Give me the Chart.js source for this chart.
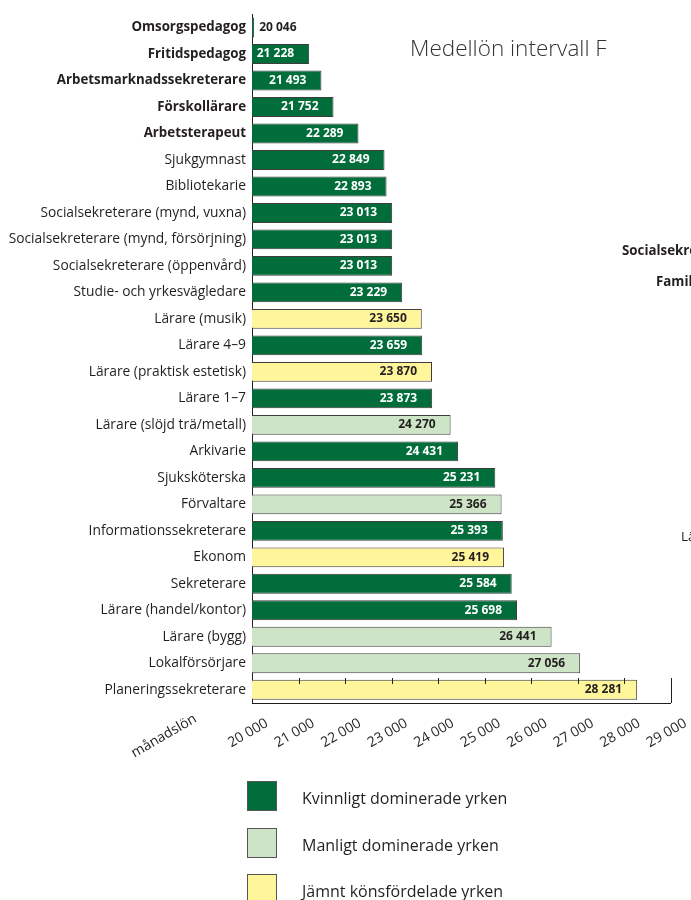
<!DOCTYPE html>
<html>
<head>
<meta charset="utf-8">
<script src="https://cdn.jsdelivr.net/npm/chart.js@4"></script>
<style>
  body { margin: 0; background: #fff; font-family: "Open Sans", sans-serif; color: #231f20; }
  #wrap { position: relative; width: 691px; height: 900px; overflow: hidden; }
  #lonChart { position: absolute; left: 0; top: 0; }
  #title { position: absolute; left: 410px; top: 32px; font-size: 22.5px; font-weight: 300; color: #333; white-space: nowrap; }
  .frag { position: absolute; font-size: 13.3px; white-space: nowrap; }
  .legend { position: absolute; left: 247px; top: 0; }
  .legend .row { position: absolute; left: 0; width: 300px; height: 30px; white-space: nowrap; }
  .legend .box { position: absolute; left: 0; top: 0; width: 28px; height: 28px; border: 1px solid #555; }
  .legend .txt { position: absolute; left: 55px; top: 6px; font-size: 16px; color: #231f20; }
</style>
</head>
<body>
<div id="wrap">
  <canvas id="lonChart" width="691" height="900"></canvas>
  <div id="title">Medellön intervall F</div>
  <div class="frag" style="left:622px; top:241px; font-weight:bold;">Socialsekreterare</div>
  <div class="frag" style="left:656px; top:272px; font-weight:bold;">Familjebehandlare</div>
  <div class="frag" style="left:681px; top:527px;">Lärare</div>
  <div class="legend" id="legend"></div>
</div>
<script>
const yrken = [
  'Omsorgspedagog', 'Fritidspedagog', 'Arbetsmarknadssekreterare', 'Förskollärare', 'Arbetsterapeut',
  'Sjukgymnast', 'Bibliotekarie', 'Socialsekreterare (mynd, vuxna)', 'Socialsekreterare (mynd, försörjning)',
  'Socialsekreterare (öppenvård)', 'Studie- och yrkesvägledare', 'Lärare (musik)', 'Lärare 4–9',
  'Lärare (praktisk estetisk)', 'Lärare 1–7', 'Lärare (slöjd trä/metall)', 'Arkivarie', 'Sjuksköterska',
  'Förvaltare', 'Informationssekreterare', 'Ekonom', 'Sekreterare', 'Lärare (handel/kontor)',
  'Lärare (bygg)', 'Lokalförsörjare', 'Planeringssekreterare'
];
const manadslon = [
  20046, 21228, 21493, 21752, 22289,
  22849, 22893, 23013, 23013,
  23013, 23229, 23650, 23659,
  23870, 23873, 24270, 24431, 25231,
  25366, 25393, 25419, 25584, 25698,
  26441, 27056, 28281
];
// K = kvinnligt, M = manligt, J = jämnt fördelat
const kon = [
  'K', 'K', 'K', 'K', 'K',
  'K', 'K', 'K', 'K',
  'K', 'K', 'J', 'K',
  'J', 'K', 'M', 'K', 'K',
  'M', 'K', 'J', 'K', 'K',
  'M', 'M', 'J'
];
const fetaYrken = 5; // de fem första skrivs i fetstil
const xTicks = [20000, 21000, 22000, 23000, 24000, 25000, 26000, 27000, 28000, 29000];
const grupper = ['K', 'M', 'J'];
const gruppNamn = ['Kvinnligt dominerade yrken', 'Manligt dominerade yrken', 'Jämnt könsfördelade yrken'];

const farger = { K: '#006d3a', M: '#cde5c6', J: '#fff59a' };
const textFarg = { K: '#ffffff', M: '#231f20', J: '#231f20' };
const font = '"Open Sans", sans-serif';

function fmt(v) {
  return String(v).replace(/\B(?=(\d{3})+(?!\d))/g, ' ');
}

// legend under diagrammet
const legendEl = document.getElementById('legend');
grupper.forEach((g, i) => {
  const row = document.createElement('div');
  row.className = 'row';
  row.style.top = (781 + i * 46.5) + 'px';
  row.innerHTML = '<div class="box" style="background:' + farger[g] + '"></div><div class="txt">' + gruppNamn[i] + '</div>';
  legendEl.appendChild(row);
});

const extras = {
  id: 'extras',
  afterDatasetsDraw(chart) {
    const c = chart.ctx;
    const x = chart.scales.x;
    const area = chart.chartArea;
    const meta = chart.getDatasetMeta(0);
    const start = x.getPixelForValue(xTicks[0]);
    c.save();
    // värden i staplarna
    c.font = 'bold 12px ' + font;
    c.textBaseline = 'middle';
    meta.data.forEach((bar, i) => {
      const end = x.getPixelForValue(manadslon[i]);
      if (end - start < 40) {
        c.fillStyle = '#231f20';
        c.textAlign = 'left';
        c.fillText(fmt(manadslon[i]), end + 5, bar.y);
      } else {
        c.fillStyle = textFarg[kon[i]];
        c.textAlign = 'right';
        c.fillText(fmt(manadslon[i]), end - 15, bar.y);
      }
    });
    // korta streck för skalan och höger kant
    c.strokeStyle = '#231f20';
    c.lineWidth = 1;
    c.beginPath();
    xTicks.forEach(t => {
      const px = Math.round(x.getPixelForValue(t)) + 0.5;
      if (t > xTicks[0] && t < xTicks[xTicks.length - 1]) {
        c.moveTo(px, area.bottom - 25);
        c.lineTo(px, area.bottom - 19);
      }
    });
    const right = Math.round(x.getPixelForValue(xTicks[xTicks.length - 1])) + 0.5;
    c.moveTo(right, area.bottom - 25);
    c.lineTo(right, area.bottom);
    c.stroke();
    // axeltitel
    c.translate(164, 736);
    c.rotate(-Math.PI / 6);
    c.font = '14px ' + font;
    c.fillStyle = '#231f20';
    c.textAlign = 'center';
    c.textBaseline = 'middle';
    c.fillText('månadslön', 0, 0);
    c.restore();
  }
};

new Chart(document.getElementById('lonChart'), {
  type: 'bar',
  data: {
    labels: yrken,
    datasets: [{
      data: manadslon,
      backgroundColor: kon.map(k => farger[k]),
      borderColor: '#3d3d3d',
      borderWidth: 1,
      borderSkipped: 'start',
      barPercentage: 0.75,
      categoryPercentage: 1
    }]
  },
  options: {
    indexAxis: 'y',
    responsive: false,
    animation: false,
    layout: { padding: { top: 7, right: 0, left: 0, bottom: 0 } },
    plugins: { legend: { display: false }, tooltip: { enabled: false } },
    scales: {
      x: {
        min: 20000,
        max: 29000,
        afterFit(s) { s.height = 197; },
        afterBuildTicks(s) { s.ticks = xTicks.map(v => ({ value: v })); },
        grid: { display: false, drawTicks: false },
        border: { display: true, color: '#231f20', width: 1 },
        ticks: {
          color: '#231f20',
          font: { family: font, size: 14 },
          minRotation: 30,
          maxRotation: 30,
          padding: 12,
          labelOffset: 15,
          autoSkip: false,
          callback: v => fmt(v)
        }
      },
      y: {
        afterFit(s) { s.width = 252; },
        grid: { display: false, drawTicks: false },
        border: { display: true, color: '#231f20', width: 1 },
        ticks: {
          color: '#231f20',
          padding: 6,
          autoSkip: false,
          font: c => c.index < fetaYrken
            ? { family: font, size: 13.3, weight: 'bold' }
            : { family: font, size: 13.8, weight: 'normal' }
        }
      }
    }
  },
  plugins: [extras]
});
</script>
</body>
</html>
